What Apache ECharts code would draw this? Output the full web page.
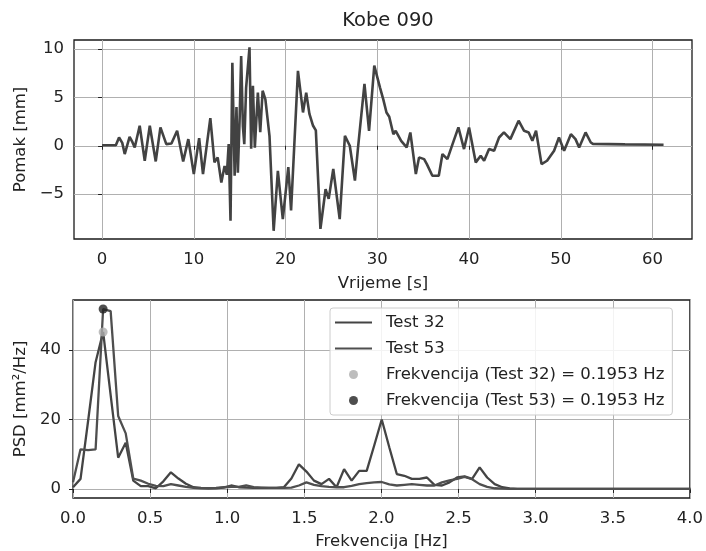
<!DOCTYPE html>
<html><head><meta charset="utf-8">
<script src="https://cdn.jsdelivr.net/npm/echarts@6/dist/echarts.min.js"></script>
<style>html,body{margin:0;padding:0;background:#fff}#c{width:706px;height:551px}</style>
</head><body><div id="c"></div>
<script>
// ---- Top panel: Kobe 090 displacement record ----
const timeS = [0, 1.5, 1.85, 2.2, 2.47, 3.0, 3.3, 3.56, 4.1, 4.65, 5.2, 5.85, 6.36, 7.0, 7.56, 8.18, 8.84, 9.4, 10.0, 10.58,
  11.0, 11.8, 12.25, 12.6, 13.0, 13.35, 13.6, 13.8, 14.0, 14.2, 14.45, 14.65, 14.8, 15.0, 15.16, 15.35, 15.5, 15.7, 16.07, 16.25,
  16.44, 16.65, 16.98, 17.24, 17.5, 17.8, 18.25, 18.7, 19.16, 19.7, 20.3, 20.6, 21.35, 21.9, 22.25, 22.6, 23.0, 23.3, 23.8, 24.36,
  24.7, 25.2, 25.9, 26.47, 27.0, 27.56, 27.9, 28.6, 29.1, 29.67, 30.3, 30.65, 31.0, 31.3, 31.75, 32.0, 32.6, 33.2, 33.6, 34.2,
  34.55, 35.1, 35.4, 36.0, 36.7, 37.1, 37.64, 38.2, 38.84, 39.45, 40.0, 40.73, 41.27, 41.64, 42.18, 42.73, 43.27, 43.8, 44.5, 45.4,
  46.0, 46.5, 46.9, 47.3, 47.9, 48.5, 49.27, 49.8, 50.36, 51.1, 51.6, 52.0, 52.7, 53.27, 53.5, 57, 61.2];
const pomakMM = [0.05, 0.05, 0.86, 0.3, -0.86, 0.93, 0.4, -0.17, 2.07, -1.55, 2.07, -1.62, 1.9, 0.17, 0.24, 1.55, -1.62, 0.69, -2.93, 0.79,
  -2.93, 2.86, -1.72, -1.2, -3.8, -2.1, -3.0, 0.17, -7.76, 8.6, -3.1, 4.0, -2.8, 3.0, 9.3, 2.0, 0.17, 6.0, 10.2, -0.3,
  6.2, -0.2, 5.5, 1.4, 5.7, 4.8, 1.0, -8.8, -2.6, -7.6, -2.2, -6.7, 7.76, 3.45, 5.5, 3.3, 2.07, 1.6, -8.6, -4.5,
  -5.5, -2.4, -7.6, 1.03, 0, -3.6, -0.17, 6.4, 1.55, 8.3, 6.0, 4.8, 3.45, 3.0, 1.2, 1.55, 0.5, -0.17, 1.38, -2.93,
  -1.2, -1.38, -1.9, -3.1, -3.1, -0.86, -1.38, 0.17, 1.9, -0.34, 1.9, -1.72, -1.03, -1.55, -0.34, -0.52, 0.86, 1.38, 0.69, 2.6,
  1.55, 1.38, 0.52, 1.55, -1.9, -1.55, -0.52, 0.86, -0.52, 1.2, 0.69, -0.17, 1.38, 0.34, 0.2, 0.15, 0.1];

// ---- Bottom panel: PSD ----
const FREQ_STEP_HZ = 0.048828125;
const psdTest32 = [0.5, 2.9, 19.5, 36.5, 45.2, 27, 9, 13.3, 2.4, 0.8,
  0.8, 0.2, 2.2, 4.8, 3.0, 1.5, 0.5, 0.3, 0.2, 0.2,
  0.4, 1.0, 0.5, 0.4, 0.3, 0.3, 0.3, 0.3, 0.5, 3.0,
  7.1, 5.0, 2.4, 1.4, 2.9, 0.5, 5.7, 2.4, 5.2, 5.2,
  12.5, 20, 12, 4.3, 3.8, 2.9, 2.9, 3.3, 1.2, 1.0,
  1.9, 3.3, 3.6, 2.9, 6.2, 3.3, 1.4, 0.5, 0.2, 0.05,
  0.05, 0.05, 0.05, 0.05, 0.05, 0.05, 0.05, 0.05, 0.05, 0.05,
  0.05, 0.05, 0.05, 0.05, 0.05, 0.05, 0.05, 0.05, 0.05, 0.05,
  0.05, 0.05, 0.05];
const psdTest53 = [1.9, 11.4, 11.2, 11.4, 51.8, 51.2, 21, 16, 3.0, 2.4,
  1.5, 0.9, 0.8, 1.4, 1.0, 0.6, 0.3, 0.2, 0.2, 0.3,
  0.5, 0.6, 0.6, 1.0, 0.5, 0.4, 0.3, 0.3, 0.3, 0.4,
  1.0, 1.9, 1.2, 0.8, 0.6, 0.5, 0.5, 0.9, 1.4, 1.7,
  1.9, 2.0, 1.3, 1.0, 1.2, 1.4, 1.2, 1.0, 1.0, 1.9,
  2.5, 2.9, 3.5, 2.8, 1.4, 0.6, 0.2, 0.1, 0.05, 0.05,
  0.05, 0.05, 0.05, 0.05, 0.05, 0.05, 0.05, 0.05, 0.05, 0.05,
  0.05, 0.05, 0.05, 0.05, 0.05, 0.05, 0.05, 0.05, 0.05, 0.05,
  0.05, 0.05, 0.05];
const peakFreqHz = 0.1953;
const peakPsdTest32 = 45.2;
const peakPsdTest53 = 51.8;

// ---- Tick labels ----
const topXTicks = [0, 10, 20, 30, 40, 50, 60];
const topYTicks = [-5, 0, 5, 10];
const botXTicks = [0, 0.5, 1, 1.5, 2, 2.5, 3, 3.5, 4];
const botYTicks = [0, 20, 40];

const FONT = 'DejaVu Sans';
const TXT = '#222';
const FS = 16.5;
const LINE_ICON = 'path://M0,0 L40,0 L40,2.4 L0,2.4 Z';

function minusFmt(v) { return v < 0 ? '\u2212' + Math.abs(v) : String(v); }

function valueAxis(o) {
  return Object.assign({
    type: 'value',
    axisLine: { show: false },
    axisTick: { show: true, inside: false, length: 4, lineStyle: { color: TXT, width: 1 }, customValues: o.ticks },
    axisLabel: { customValues: o.ticks, color: TXT, fontFamily: FONT, fontSize: FS, margin: o.margin, formatter: o.fmt, showMinLabel: true, showMaxLabel: true },
    splitLine: { show: true, lineStyle: { color: '#b0b0b0', width: 1 } },
    nameLocation: 'middle',
    nameTextStyle: { color: TXT, fontFamily: FONT, fontSize: FS }
  }, o.extra);
}

const chart = echarts.init(document.getElementById('c'), null, { renderer: 'canvas' });
chart.setOption({
  backgroundColor: '#fff',
  animation: false,
  title: {
    text: 'Kobe 090', left: 383, top: 6, textAlign: 'center',
    textStyle: { color: TXT, fontFamily: FONT, fontSize: 19.5, fontWeight: 'normal' }
  },
  grid: [
    { left: 74, right: 14, top: 40, height: 199, show: true, borderColor: '#1a1a1a', borderWidth: 1.3, backgroundColor: 'transparent' },
    { left: 73, right: 14, top: 300, height: 199, show: true, borderColor: '#1a1a1a', borderWidth: 1.3, backgroundColor: 'transparent' }
  ],
  xAxis: [
    valueAxis({ ticks: topXTicks, margin: 12, fmt: minusFmt,
      extra: { gridIndex: 0, min: -3.06, max: 64.3, name: 'Vrijeme [s]', nameGap: 36 } }),
    valueAxis({ ticks: botXTicks, margin: 12, fmt: v => v.toFixed(1),
      extra: { gridIndex: 1, min: 0, max: 4, name: 'Frekvencija [Hz]', nameGap: 35 } })
  ],
  yAxis: [
    valueAxis({ ticks: topYTicks, margin: 10, fmt: minusFmt,
      extra: { gridIndex: 0, min: -9.65, max: 10.95, name: 'Pomak [mm]', nameGap: 35, nameRotate: 90 } }),
    valueAxis({ ticks: botYTicks, margin: 12, fmt: minusFmt,
      extra: { gridIndex: 1, min: -2.6, max: 54.4, name: 'PSD [mm\u00B2/Hz]', nameGap: 44, nameRotate: 90 } })
  ],
  legend: {
    left: 330, top: 308, orient: 'vertical',
    padding: [6, 8, 6, 5], itemGap: 9, itemWidth: 37, itemHeight: 9,
    backgroundColor: 'rgba(255,255,255,0.85)', borderColor: '#cccccc', borderWidth: 1, borderRadius: 3,
    textStyle: { color: TXT, fontFamily: FONT, fontSize: FS, lineHeight: 17, padding: [0, 0, 0, 9] },
    data: [
      { name: 'Test 32', icon: LINE_ICON },
      { name: 'Test 53', icon: LINE_ICON },
      { name: 'Frekvencija (Test 32) = 0.1953 Hz', icon: 'circle' },
      { name: 'Frekvencija (Test 53) = 0.1953 Hz', icon: 'circle' }
    ]
  },
  series: [
    { name: 'Kobe', type: 'line', xAxisIndex: 0, yAxisIndex: 0, symbol: 'none',
      lineStyle: { color: '#424242', width: 2.6 }, itemStyle: { color: '#424242' },
      data: timeS.map((t, i) => [t, pomakMM[i]]) },
    { name: 'Test 32', type: 'line', xAxisIndex: 1, yAxisIndex: 1, symbol: 'none',
      lineStyle: { color: '#444444', width: 2.3 }, itemStyle: { color: '#444444' },
      data: psdTest32.map((v, k) => [k * FREQ_STEP_HZ, v]) },
    { name: 'Test 53', type: 'line', xAxisIndex: 1, yAxisIndex: 1, symbol: 'none',
      lineStyle: { color: '#4f4f4f', width: 2.3 }, itemStyle: { color: '#4f4f4f' },
      data: psdTest53.map((v, k) => [k * FREQ_STEP_HZ, v]) },
    { name: 'Frekvencija (Test 32) = 0.1953 Hz', type: 'scatter', xAxisIndex: 1, yAxisIndex: 1, z: 5,
      symbol: 'circle', symbolSize: 9, itemStyle: { color: '#acacac' },
      data: [[peakFreqHz, peakPsdTest32]] },
    { name: 'Frekvencija (Test 53) = 0.1953 Hz', type: 'scatter', xAxisIndex: 1, yAxisIndex: 1, z: 5,
      symbol: 'circle', symbolSize: 9, itemStyle: { color: '#222222' },
      data: [[peakFreqHz, peakPsdTest53]] }
  ]
});
</script></body></html>
